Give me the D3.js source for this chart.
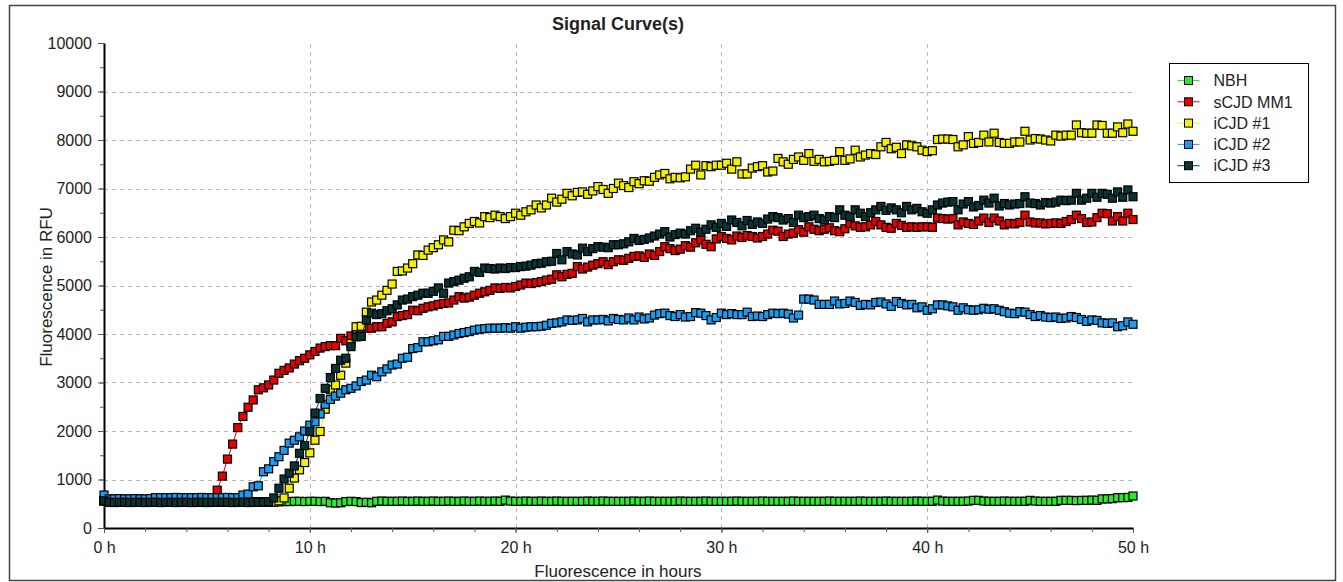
<!DOCTYPE html>
<html>
<head>
<meta charset="utf-8">
<script src="https://cdn.jsdelivr.net/npm/d3@7/dist/d3.min.js"></script>
<style>
  body { margin: 0; background: #fff; }
  svg text { font-family: "Liberation Sans", Arial, sans-serif; fill: #222; }
</style>
</head>
<body>
<div id="chart"></div>
<script>
// Données : une mesure toutes les 15 min, de 0 h à 50 h
const seriesNames = ["NBH", "sCJD MM1", "iCJD #1", "iCJD #2", "iCJD #3"];
const seriesColors = ["#2ee82e", "#e80000", "#f2f200", "#1c9cec", "#0b3333"];

const nbh = [
  560,545,540,540, 545,540,540,545, 540,540,545,540, 545,540,540,545, 540,545,540,540,
  545,540,540,545, 540,540,545,540, 540,545,540,545, 540,535,540,545, 545,550,550,545,
  550,550,545,550, 520,515,520,545, 550,545,525,530, 520,550,555,550, 550,550,555,550,
  550,555,550,550, 555,550,550,555, 550,550,555,550, 550,555,550,550, 555,550,575,555,
  550,550,555,550, 550,555,550,550, 555,550,550,550, 550,550,555,550, 550,555,550,550,
  550,550,550,555, 550,550,555,550, 550,550,550,550, 555,550,550,550, 550,555,550,550,
  550,550,550,555, 550,550,550,550, 555,550,550,550, 550,550,555,550, 550,550,550,550,
  550,555,550,550, 550,550,550,555, 550,550,550,550, 555,550,550,550, 550,550,555,550,
  550,550,575,555, 550,550,550,550, 555,570,570,555, 550,550,550,555, 550,550,550,550,
  570,555,550,550, 550,550,570,570, 570,565,570,570, 575,570,600,600, 605,625,625,630,
  660
];

const scjdMM1 = [
  560,535,530,530, 530,535,530,530, 530,530,535,530, 530,530,530,535, 530,530,530,530,
  535,530,780,1070, 1420,1730,2070,2300, 2490,2640,2850,2890, 2950,3050,3190,3250, 3300,3380,3450,3500,
  3570,3640,3710,3740, 3760,3760,3910,3860, 3960,3990,4060,4120, 4120,4150,4150,4220, 4250,4360,4380,4400,
  4490,4480,4530,4560, 4580,4610,4630,4640, 4700,4770,4740,4760, 4800,4840,4870,4900, 4950,4940,4960,4950,
  4980,5010,5050,5040, 5060,5080,5110,5130, 5220,5180,5230,5250, 5390,5340,5380,5420, 5450,5490,5430,5490,
  5530,5520,5560,5600, 5610,5580,5650,5620, 5700,5800,5760,5720, 5750,5820,5790,5880, 5940,5850,5800,5960,
  6010,5970,5940,6020, 5990,6030,6010,5980, 6010,6060,6140,6120, 6010,6060,6080,6150, 6100,6210,6160,6130,
  6160,6190,6130,6110, 6170,6280,6230,6200, 6210,6250,6320,6250, 6200,6180,6280,6240, 6200,6210,6200,6210,
  6210,6200,6390,6380, 6370,6380,6250,6310, 6280,6260,6330,6390, 6300,6390,6330,6250, 6280,6270,6300,6450,
  6310,6290,6290,6270, 6280,6290,6280,6320, 6360,6450,6380,6300, 6310,6400,6490,6480, 6330,6420,6330,6490,
  6360
];

const icjd1 = [
  560,535,530,530, 530,530,535,530, 530,535,530,530, 530,530,530,535, 530,530,535,530,
  530,535,530,530, 530,530,530,535, 530,530,535,530, 530,535,560,620, 820,1030,1200,1350,
  1550,1810,1990,2450, 2850,2950,3150,3400, 3800,4150,4160,4450, 4660,4700,4800,4900, 5030,5290,5300,5360,
  5450,5630,5620,5730, 5780,5840,5940,5900, 6140,6130,6210,6280, 6320,6290,6420,6400, 6450,6420,6380,6420,
  6490,6450,6520,6560, 6660,6600,6660,6800, 6720,6780,6900,6850, 6920,6930,6880,6950, 7040,6980,6900,7000,
  7110,7060,7020,7140, 7100,7160,7150,7230, 7280,7310,7200,7230, 7220,7240,7400,7480, 7280,7470,7450,7480,
  7480,7520,7400,7550, 7300,7300,7420,7450, 7470,7340,7360,7620, 7550,7500,7600,7650, 7580,7720,7560,7600,
  7550,7560,7580,7760, 7580,7610,7790,7650, 7690,7720,7700,7860, 7950,7820,7850,7720, 7900,7880,7860,7790,
  7760,7780,8010,8020, 8020,8010,7860,7900, 8070,7930,7950,8100, 7960,8140,7950,7930, 7930,7960,7960,8180,
  8000,8030,8020,8000, 7980,8100,8080,8100, 8100,8310,8150,8140, 8140,8310,8300,8140, 8140,8270,8150,8330,
  8180
];

const icjd2 = [
  680,600,600,605, 600,600,605,600, 600,605,625,625, 625,625,630,625, 625,625,625,630,
  625,625,625,625, 630,625,625,680, 700,850,870,1160, 1220,1370,1470,1600, 1750,1810,1880,2000,
  2120,2190,2350,2550, 2650,2720,2780,2850, 2880,2930,3020,3050, 3150,3120,3220,3280, 3360,3380,3500,3520,
  3700,3720,3840,3840, 3860,3880,3950,3950, 3980,4010,4030,4050, 4080,4100,4110,4120, 4120,4120,4130,4120,
  4150,4120,4140,4150, 4150,4160,4180,4220, 4230,4250,4290,4280, 4290,4320,4250,4290, 4290,4300,4270,4320,
  4300,4290,4330,4290, 4350,4310,4330,4390, 4420,4430,4380,4360, 4400,4350,4360,4440, 4430,4380,4290,4340,
  4430,4400,4420,4400, 4400,4450,4360,4370, 4360,4400,4430,4420, 4430,4410,4330,4390, 4720,4720,4700,4610,
  4610,4610,4680,4620, 4630,4680,4650,4590, 4610,4600,4650,4660, 4620,4570,4670,4630, 4600,4610,4540,4560,
  4490,4520,4600,4600, 4580,4560,4490,4540, 4500,4490,4500,4530, 4510,4520,4490,4460, 4430,4420,4460,4450,
  4400,4360,4380,4350, 4340,4350,4320,4330, 4360,4340,4300,4260, 4290,4280,4230,4220, 4230,4150,4170,4250,
  4200
];

const icjd3 = [
  560,530,525,530, 530,525,530,530, 525,530,530,525, 530,530,525,530, 530,525,530,530,
  525,530,530,530, 530,525,530,530, 525,530,530,530, 540,620,820,1010, 1130,1280,1540,1700,
  1990,2370,2670,2880, 3100,3290,3460,3500, 3740,3940,3950,4290, 4430,4400,4420,4480, 4520,4600,4700,4720,
  4770,4800,4840,4840, 4880,4950,4840,5050, 5080,5110,5150,5180, 5290,5270,5360,5350, 5340,5360,5350,5370,
  5370,5390,5400,5420, 5450,5460,5490,5500, 5660,5530,5700,5650, 5630,5770,5700,5760, 5800,5790,5780,5840,
  5840,5860,5900,5970, 5930,5950,5980,6020, 6060,6110,6000,6050, 6080,6060,6130,6180, 6100,6160,6250,6200,
  6280,6220,6350,6300, 6230,6340,6260,6310, 6280,6370,6420,6400, 6350,6380,6300,6450, 6400,6420,6450,6380,
  6350,6420,6400,6560, 6450,6420,6560,6490, 6420,6500,6560,6630, 6550,6600,6560,6500, 6630,6560,6590,6520,
  6490,6560,6660,6700, 6720,6730,6560,6680, 6730,6620,6650,6760, 6700,6800,6640,6690, 6660,6680,6690,6830,
  6700,6690,6660,6710, 6700,6720,6760,6750, 6760,6900,6760,6800, 6900,6820,6900,6880, 6800,6930,6820,6970,
  6830
];

const seriesValues = [nbh, scjdMM1, icjd1, icjd2, icjd3];
const timesH = d3.range(nbh.length).map(i => i * 0.25);

// Graduations
const xMajorTicks = [0, 10, 20, 30, 40, 50];
const xMinorTicks = d3.range(0, 51, 2);
const yMajorTicks = [0, 1000, 2000, 3000, 4000, 5000, 6000, 7000, 8000, 9000, 10000];
const yMinorTicks = d3.range(0, 10001, 500);

// Configuration
const width = 1343, height = 582;
const plot = { left: 104, right: 1133, top: 43, bottom: 528 };

const svg = d3.select("#chart")
  .append("svg")
  .attr("width", width)
  .attr("height", height);

// Cadre extérieur
svg.append("rect")
  .attr("x", 9.5).attr("y", 5.5)
  .attr("width", 1326).attr("height", 575)
  .attr("fill", "#fff")
  .attr("stroke", "#444")
  .attr("stroke-width", 1.5);

// Échelles
const xScale = d3.scaleLinear().domain([0, 50]).range([plot.left, plot.right]);
const yScale = d3.scaleLinear().domain([0, 10000]).range([plot.bottom, plot.top]);

// Grille pointillée
svg.append("g").selectAll("line")
  .data(yMajorTicks.filter(d => d > 0 && d < 10000))
  .join("line")
  .attr("x1", plot.left).attr("x2", plot.right)
  .attr("y1", d => Math.round(yScale(d)) + 0.5).attr("y2", d => Math.round(yScale(d)) + 0.5)
  .attr("stroke", "#b8b8b8").attr("stroke-dasharray", "4,4");

svg.append("g").selectAll("line")
  .data(xMajorTicks.filter(d => d > 0 && d < 50))
  .join("line")
  .attr("x1", d => Math.round(xScale(d)) + 0.5).attr("x2", d => Math.round(xScale(d)) + 0.5)
  .attr("y1", plot.bottom).attr("y2", plot.top)
  .attr("stroke", "#b8b8b8").attr("stroke-dasharray", "4,4");

// Axes
const yAxis = svg.append("g")
  .attr("transform", `translate(${plot.left},0)`)
  .call(d3.axisLeft(yScale).tickValues(yMajorTicks).tickFormat(d3.format("d"))
    .tickSize(6).tickSizeOuter(0).tickPadding(6));
svg.append("g")
  .attr("transform", `translate(${plot.left},0)`)
  .call(d3.axisLeft(yScale).tickValues(yMinorTicks).tickFormat("").tickSize(4).tickSizeOuter(0))
  .select(".domain").remove();

const xAxis = svg.append("g")
  .attr("transform", `translate(0,${plot.bottom})`)
  .call(d3.axisBottom(xScale).tickValues(xMajorTicks).tickFormat(d => d + " h")
    .tickSize(5).tickSizeOuter(0).tickPadding(9));
svg.append("g")
  .attr("transform", `translate(0,${plot.bottom})`)
  .call(d3.axisBottom(xScale).tickValues(xMinorTicks).tickFormat("").tickSize(4).tickSizeOuter(0))
  .select(".domain").remove();

[yAxis, xAxis].forEach(ax => {
  ax.select(".domain").attr("stroke", "#000").attr("stroke-width", 2);
  ax.selectAll("text").style("font-size", "16px").attr("fill", "#222");
});
svg.selectAll(".tick line").attr("stroke", "#555");

// Titres
svg.append("text")
  .attr("x", 618).attr("y", 30)
  .attr("text-anchor", "middle")
  .style("font-size", "18px").style("font-weight", "bold")
  .text("Signal Curve(s)");

svg.append("text")
  .attr("x", 618).attr("y", 577)
  .attr("text-anchor", "middle")
  .style("font-size", "17px")
  .text("Fluorescence in hours");

svg.append("text")
  .attr("transform", "rotate(-90)")
  .attr("x", -287).attr("y", 52)
  .attr("text-anchor", "middle")
  .style("font-size", "17px")
  .text("Fluorescence in RFU");

// Courbes et marqueurs
const line = d3.line()
  .x((d, i) => xScale(timesH[i]))
  .y(d => yScale(d));

const marker = 8;

seriesValues.forEach((values, s) => {
  const g = svg.append("g").attr("class", "series");

  g.append("path")
    .datum(values)
    .attr("d", line)
    .attr("fill", "none")
    .attr("stroke", seriesColors[s])
    .attr("stroke-width", 1);

  g.selectAll("rect")
    .data(values)
    .join("rect")
    .attr("x", (d, i) => xScale(timesH[i]) - marker / 2)
    .attr("y", d => yScale(d) - marker / 2)
    .attr("width", marker)
    .attr("height", marker)
    .attr("fill", seriesColors[s])
    .attr("stroke", "#000")
    .attr("stroke-width", 1.2);
});

// Légende
const legend = svg.append("g").attr("transform", "translate(1169.5,63.5)");

legend.append("rect")
  .attr("width", 139).attr("height", 119)
  .attr("fill", "#fff").attr("stroke", "#000");

seriesNames.forEach((name, i) => {
  const ly = 17 + i * 21.3;
  legend.append("line")
    .attr("x1", 8).attr("x2", 30)
    .attr("y1", ly).attr("y2", ly)
    .attr("stroke", seriesColors[i]);
  legend.append("rect")
    .attr("x", 19 - marker / 2).attr("y", ly - marker / 2)
    .attr("width", marker).attr("height", marker)
    .attr("fill", seriesColors[i]).attr("stroke", "#000");
  legend.append("text")
    .attr("x", 44).attr("y", ly)
    .attr("dy", "0.36em")
    .style("font-size", "16px")
    .text(name);
});
</script>
</body>
</html>
